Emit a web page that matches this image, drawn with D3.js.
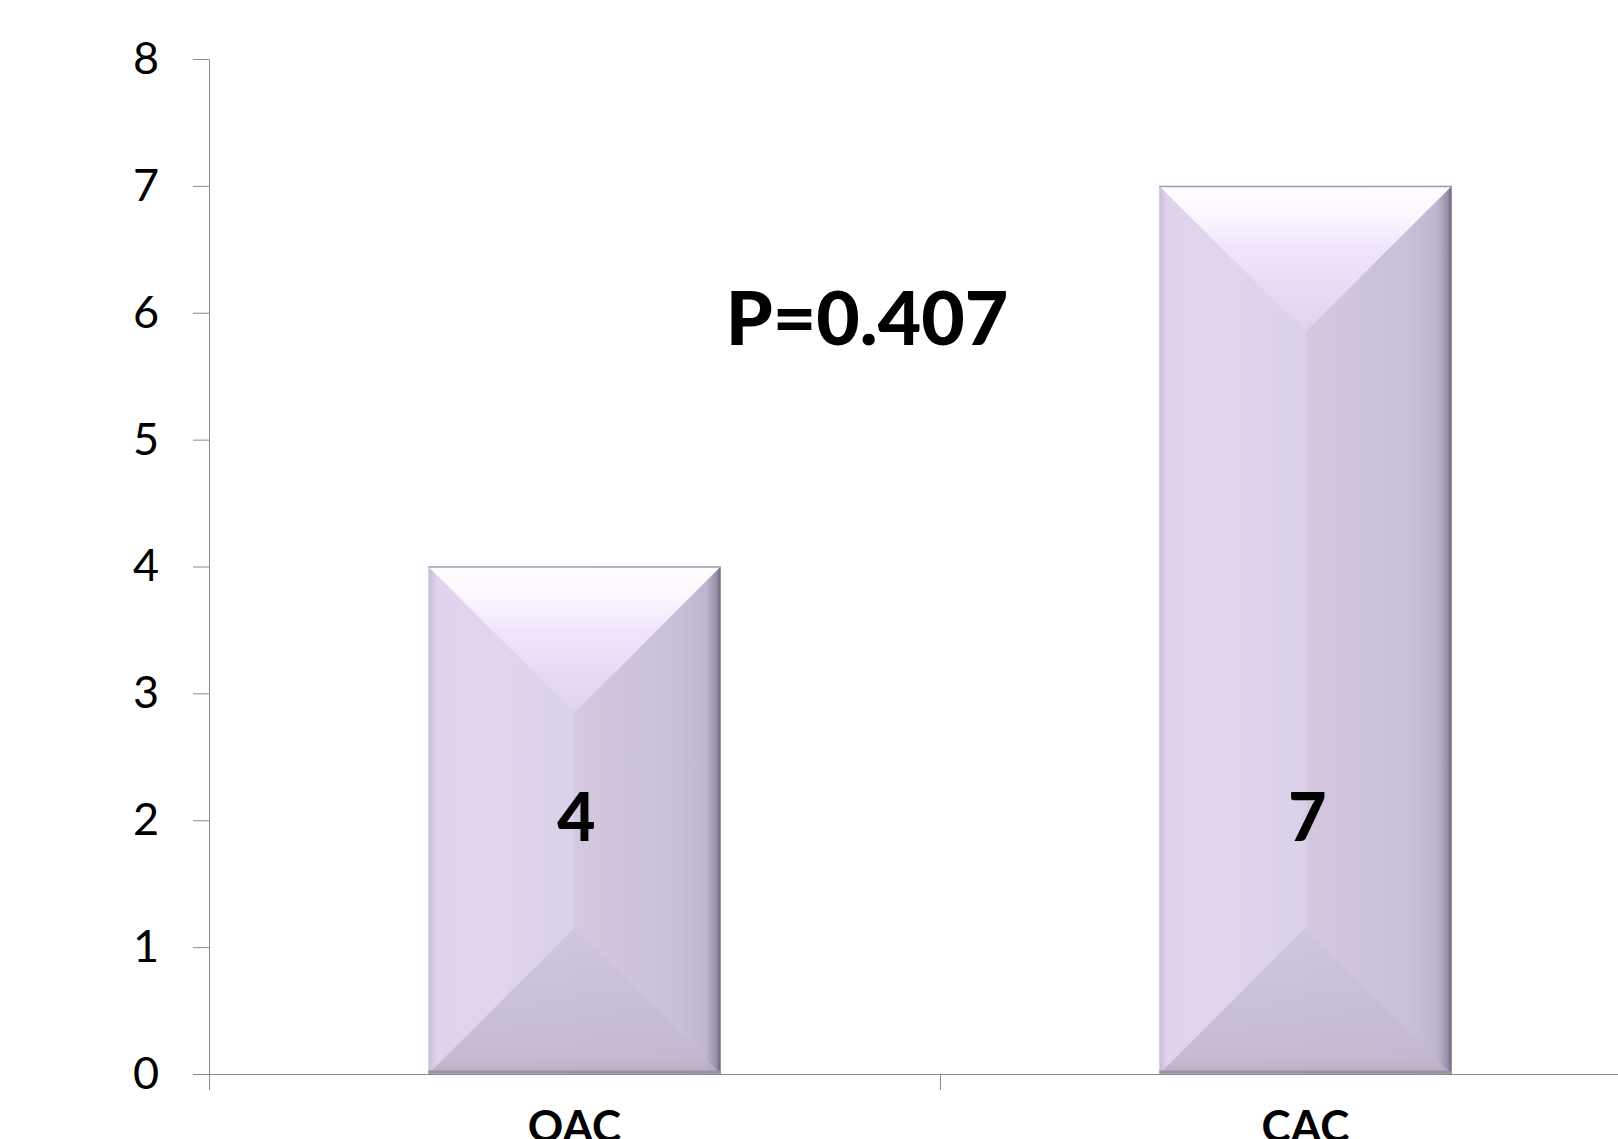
<!DOCTYPE html>
<html>
<head>
<meta charset="utf-8">
<script src="https://cdn.jsdelivr.net/npm/d3@7"></script>
<style>
  html, body { margin: 0; padding: 0; background: #fff; overflow: hidden; }
  text { font-family: Lato, "Open Sans", sans-serif; }
</style>
</head>
<body>
<div id="chart"></div>
<script>
const categories = ["OAC", "CAC"];
const values = [4, 7];
const yTicks = [0, 1, 2, 3, 4, 5, 6, 7, 8];
const pLabel = "P=0.407";
const labelAtValue = 2.04;

const width = 1618, height = 1139;
const plotLeft = 209, plotTop = 59, plotBottom = 1074, plotRight = 1671;

const svg = d3.select("#chart").append("svg")
    .attr("width", width)
    .attr("height", height);

const defs = svg.append("defs");

// horizontal shading across the bar face
const side = defs.append("linearGradient").attr("id", "side")
    .attr("x1", 0).attr("x2", 1).attr("y1", 0).attr("y2", 0);
[[0, "#c9bdd9"], [0.03, "#e0d4ec"], [0.25, "#e0d5ed"], [0.5, "#dbd0e9"],
 [0.5, "#d4c8e1"], [0.85, "#cabfd8"], [0.95, "#c0b5ce"], [0.985, "#9a90a9"], [1, "#6b6379"]]
    .forEach(([o, c]) => side.append("stop").attr("offset", o).attr("stop-color", c));

const topG = defs.append("linearGradient").attr("id", "topface")
    .attr("x1", 0).attr("x2", 0).attr("y1", 0).attr("y2", 1);
[[0, "#ffffff"], [0.2, "#fcf6ff"], [0.45, "#efe4fb"], [1, "#ded2ed"]]
    .forEach(([o, c]) => topG.append("stop").attr("offset", o).attr("stop-color", c));

const botG = defs.append("linearGradient").attr("id", "botface")
    .attr("x1", 0).attr("x2", 0).attr("y1", 0).attr("y2", 1);
[[0, "#d0c5df"], [0.9, "#c2b7cf"], [1, "#b3a9c0"]]
    .forEach(([o, c]) => botG.append("stop").attr("offset", o).attr("stop-color", c));

const y = d3.scaleLinear().domain([0, 8]).range([plotBottom, plotTop]);
const x = d3.scaleBand().domain(categories).range([plotLeft, plotRight])
    .paddingInner(0.6).paddingOuter(0.3);
const xIdx = d3.scaleLinear().domain([0, categories.length]).range([plotLeft, plotRight]);

// y axis
const yAxis = svg.append("g")
    .attr("transform", `translate(${plotLeft},0)`)
    .call(d3.axisLeft(y).tickValues(yTicks).tickSize(16).tickSizeOuter(0).tickPadding(34));
yAxis.select(".domain").attr("stroke", "#8a8a8a");
yAxis.selectAll(".tick line").attr("stroke", "#8a8a8a");
yAxis.selectAll(".tick text")
    .attr("font-size", 45).attr("fill", "#000")
    .style("font-family", "Lato, 'Open Sans', sans-serif");

// x axis (category boundaries)
const xAxis = svg.append("g")
    .attr("transform", `translate(0,${plotBottom})`)
    .call(d3.axisBottom(xIdx).tickValues(d3.range(categories.length + 1))
        .tickFormat("").tickSize(16).tickSizeOuter(0));
xAxis.select(".domain").attr("stroke", "#8a8a8a");
xAxis.selectAll(".tick line").attr("stroke", "#8a8a8a");

// bars with bevel
const bars = svg.append("g").selectAll("g").data(categories).join("g");
bars.each(function (c, i) {
    const g = d3.select(this);
    const x0 = x(c), w = x.bandwidth(), x1 = x0 + w;
    const y0 = y(values[i]), y1 = y(0);
    const d = w / 2;
    const cx = x0 + d;
    g.append("rect").attr("x", x0).attr("y", y0).attr("width", w).attr("height", y1 - y0)
        .attr("fill", "url(#side)");
    g.append("path")
        .attr("d", `M${x0},${y0}L${x1},${y0}L${cx},${y0 + d}Z`)
        .attr("fill", "url(#topface)");
    g.append("path")
        .attr("d", `M${x0},${y1}L${x1},${y1}L${cx},${y1 - d}Z`)
        .attr("fill", "url(#botface)").attr("opacity", 0.9);
    g.append("line").attr("x1", x0).attr("x2", x1).attr("y1", y0 + 0.5).attr("y2", y0 + 0.5)
        .attr("stroke", "#a398b5").attr("stroke-width", 1.5);
    g.append("line").attr("x1", x0).attr("x2", x1).attr("y1", y1 - 2).attr("y2", y1 - 2)
        .attr("stroke", "#9a91a6").attr("stroke-width", 3);
    g.append("text")
        .attr("x", cx + 2).attr("y", y(labelAtValue))
        .attr("text-anchor", "middle").attr("dominant-baseline", "central")
        .attr("font-size", 66).attr("font-weight", "900")
        .text(values[i]);
});

// category labels (cut off at the bottom edge, as in the source)
svg.append("g").selectAll("text").data(categories).join("text")
    .attr("x", c => x(c) + x.bandwidth() / 2)
    .attr("y", 1142)
    .attr("text-anchor", "middle")
    .attr("font-size", 44).attr("font-weight", "bold")
    .text(c => c);

// p-value
svg.append("text")
    .attr("x", 867).attr("y", 345)
    .attr("text-anchor", "middle")
    .attr("font-size", 75).attr("font-weight", "900")
    .text(pLabel);
</script>
</body>
</html>
